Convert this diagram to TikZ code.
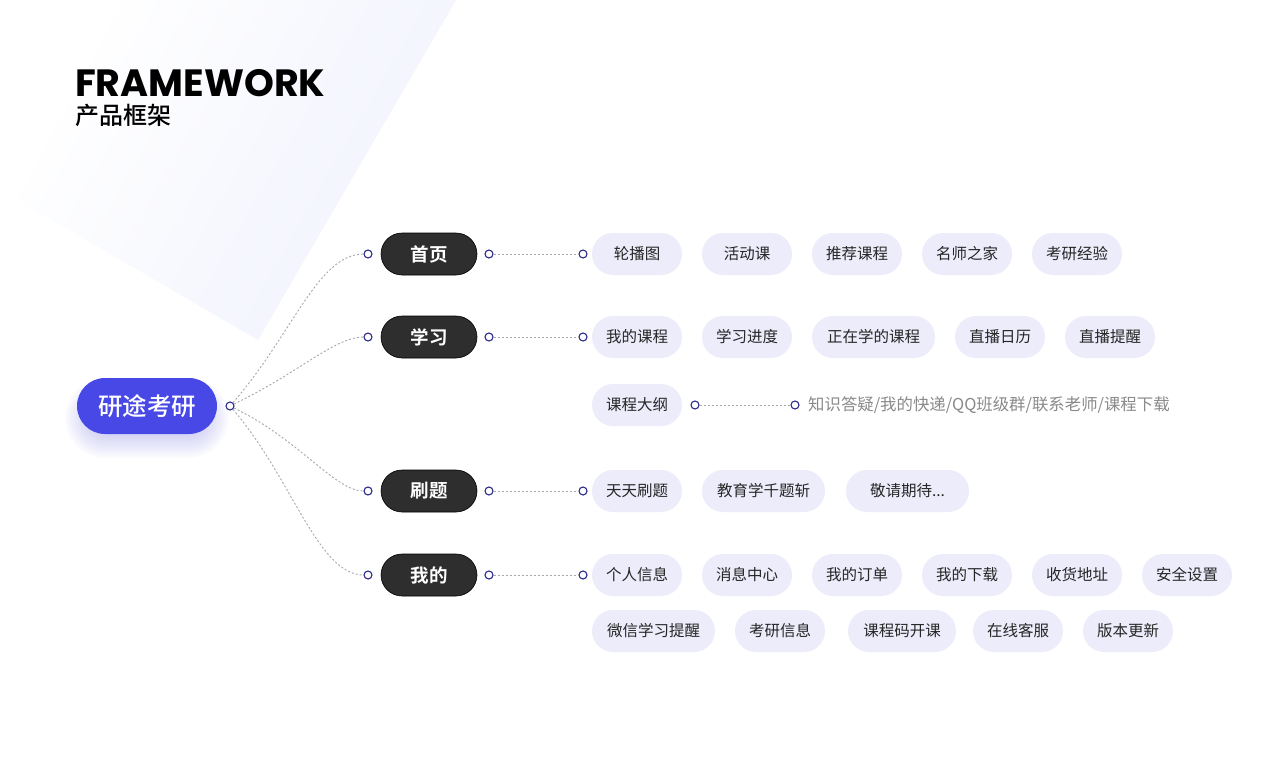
\documentclass[tikz,border=0pt]{standalone}
\usepackage{fontspec}
\setmainfont{Noto Sans CJK SC}
\newfontfamily\cjkb{Noto Sans CJK SC Bold}
\newfontfamily\cjkm{Noto Sans CJK SC Medium}
\newfontfamily\pop{Poppins Bold}
\usetikzlibrary{shapes.misc}
\definecolor{rootblue}{HTML}{4848E6}
\definecolor{catdark}{HTML}{2E2E2E}
\definecolor{leaffill}{HTML}{ECECFB}
\definecolor{navy}{HTML}{2B2B8C}
\definecolor{dotgray}{HTML}{A8A8AE}
\definecolor{bgl}{HTML}{F0F2FD}
\definecolor{greytext}{HTML}{8A8A8A}
\tikzset{
  catbox/.style={rounded rectangle, fill=catdark, draw=black, line width=0.6, text=white,
    minimum width=96, minimum height=42, inner sep=0, font=\cjkb\fontsize{18.5}{20}\selectfont},
  leaf/.style={rounded rectangle, fill=leaffill, text=black!85, minimum width=90,
    minimum height=42, inner sep=0, font=\fontsize{15.5}{18}\selectfont},
  knob/.style={circle, draw=navy, fill=white, line width=1.1, minimum size=8, inner sep=0},
  conn/.style={draw=dotgray, line width=0.9, dash pattern=on 2pt off 2pt},
}
\begin{document}
\begin{tikzpicture}[x=1pt,y=-1pt]
\useasboundingbox (0,0) rectangle (1280,771);
\fill[white] (0,0) rectangle (1280,771);
% background band
\shade[left color=white, right color=bgl, shading angle=60] (125,0) -- (456,0) -- (258,340) -- (18,200) -- cycle;
% title
\node[anchor=base west, inner sep=0, text height=27pt, text depth=0pt, font=\pop\fontsize{38}{38}\selectfont] (title) at (75,96) {FRAMEWORK};
\node[anchor=base west, inner sep=0, text height=19pt, text depth=2pt, font=\cjkm\fontsize{24}{26}\selectfont] (subtitle) at (75,124) {产品框架};
% root shadow
\foreach \i in {1,...,9}{
  \node[rounded rectangle, fill=rootblue, opacity=0.025, minimum width={118+5*\i}, minimum height={34+5*\i}, inner sep=0] at (147,418) {};
}
\node[rounded rectangle, fill=rootblue, text=white, minimum width=140, minimum height=56, inner sep=0,
  font=\cjkm\fontsize{24.5}{26}\selectfont] (root) at (147,406) {研途考研};
\node[knob] (rk) at (230,406) {};
% categories
\node[catbox] (c1) at (429,254) {首页};
\node[catbox] (c2) at (429,337) {学习};
\node[catbox] (c3) at (429,491) {刷题};
\node[catbox] (c4) at (429,575) {我的};
\foreach \n/\y in {1/254,2/337,3/491,4/575}{
  \node[knob] (l\n) at (368,\y) {};
  \node[knob] (r\n) at (489,\y) {};
  \node[knob] (e\n) at (583,\y) {};
  \draw[conn] (r\n) -- (e\n);
}
\draw[conn] (rk) .. controls (292,335) and (318,254) .. (l1);
\draw[conn] (rk) .. controls (300,372) and (335,337) .. (l2);
\draw[conn] (rk) .. controls (300,440) and (335,491) .. (l3);
\draw[conn] (rk) .. controls (292,478) and (318,575) .. (l4);
% row 1
\node[leaf] (a1) at (637,254) {轮播图};
\node[leaf] (a2) at (747,254) {活动课};
\node[leaf] (a3) at (857,254) {推荐课程};
\node[leaf] (a4) at (967,254) {名师之家};
\node[leaf] (a5) at (1077,254) {考研经验};
% row 2
\node[leaf] (b1) at (637,337) {我的课程};
\node[leaf] (b2) at (747,337) {学习进度};
\node[leaf, minimum width=123] (b3) at (873.5,337) {正在学的课程};
\node[leaf] (b4) at (1000,337) {直播日历};
\node[leaf] (b5) at (1110,337) {直播提醒};
% row 3
\node[leaf] (b6) at (637,405) {课程大纲};
\node[knob] (k6) at (695,405) {};
\node[knob] (k7) at (795,405) {};
\draw[conn] (k6) -- (k7);
\node[anchor=west, inner sep=0, text=greytext, font=\fontsize{16.4}{18}\selectfont] (sub) at (808,405) {知识答疑/我的快递/QQ班级群/联系老师/课程下载};
% row 4
\node[leaf] (d1) at (637,491) {天天刷题};
\node[leaf, minimum width=123] (d2) at (763.5,491) {教育学千题斩};
\node[leaf, minimum width=123] (d3) at (907.5,491) {敬请期待...};
% row 5
\node[leaf] (f1) at (637,575) {个人信息};
\node[leaf] (f2) at (747,575) {消息中心};
\node[leaf] (f3) at (857,575) {我的订单};
\node[leaf] (f4) at (967,575) {我的下载};
\node[leaf] (f5) at (1077,575) {收货地址};
\node[leaf] (f6) at (1187,575) {安全设置};
% row 6
\node[leaf, minimum width=123] (g1) at (653.5,631) {微信学习提醒};
\node[leaf] (g2) at (780,631) {考研信息};
\node[leaf, minimum width=108] (g3) at (902,631) {课程码开课};
\node[leaf] (g4) at (1018,631) {在线客服};
\node[leaf] (g5) at (1128,631) {版本更新};
\end{tikzpicture}
\end{document}
